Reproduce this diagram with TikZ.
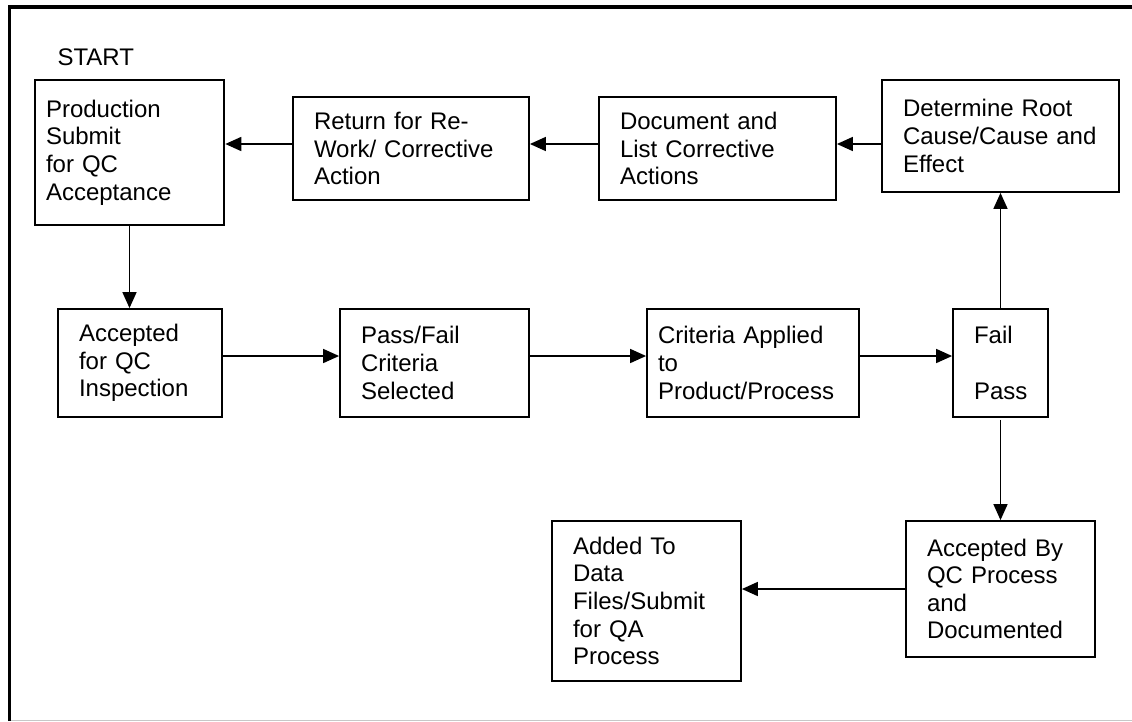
\documentclass[tikz,border=0pt]{standalone}
\usepackage{fontspec}
\setmainfont{Liberation Sans}
\usepackage{tikz}
\usetikzlibrary{arrows.meta}
\tikzset{
	qcbox/.style={draw, line width=1.8pt, align=left, inner xsep=21pt, inner ysep=0pt,
		font=\fontsize{24pt}{27.6pt}\selectfont},
	qcarrow/.style={line width=1.6pt, -{Triangle[length=16pt,width=14pt]}}
}
\def\qcbox[#1](#2)(#3:#4:#5:#6)#7{\node[qcbox, #1, text width=#5pt, minimum height=#6pt] (#2) at (#3,#4) {#7};}

\begin{document}
\begin{tikzpicture}[x=1pt, y=-1pt]
			%%%%% START %%%%%
			\useasboundingbox (0,0) rectangle (1132,721);
			
			\draw[line width=3.5pt] (9.5,721) -- (9.5,7) -- (1132,7);
			\draw[line width=1pt, color=black!22] (11,720) -- (1132,720);
			
			\node[anchor=base west, font=\fontsize{24pt}{27.6pt}\selectfont] (start) at (54,65) {START};
			
			\qcbox[line width=2.6pt, inner xsep=11pt](prod)(129.5:152.5:167:145){Production\\Submit\\for QC\\Acceptance}
			\qcbox[](ret)(411:148.5:194:103){Return for Re-\\Work/ Corrective\\Action}
			\qcbox[](doc)(717.5:148.5:195:103){Document and\\List Corrective\\Actions}
			\qcbox[](root)(1000.5:136:195:112){Determine Root\\Cause/Cause and\\Effect}
			
			\qcbox[](acc)(140:363:122:108){Accepted\\for QC\\Inspection}
			\qcbox[](pf)(434.5:363:147:108){Pass/Fail\\Criteria\\Selected}
			\qcbox[inner xsep=11pt](crit)(753:363:190:108){Criteria Applied\\to\\Product/Process}
			\qcbox[](fail)(1000.5:363:53:108){Fail\\[27.6pt]Pass}
			
			\qcbox[](accby)(1000.5:589:147:136){Accepted By\\QC Process\\and\\Documented}
			\qcbox[](added)(646.5:601:147:160){Added To\\Data\\Files/Submit\\for QA\\Process}
			
			\draw[qcarrow] ([yshift=4.5pt]ret.west) -- ([yshift=4.5pt]ret.west -| prod.east);
			\draw[qcarrow] ([yshift=4.5pt]doc.west) -- ([yshift=4.5pt]ret.east);
			\draw[qcarrow] ([yshift=4.5pt]doc.east -| root.west) -- ([yshift=4.5pt]doc.east);
			\draw[qcarrow] (prod.south) -- (prod.south |- acc.north);
			
			\draw[qcarrow] ([yshift=7pt]acc.east) -- ([yshift=7pt]pf.west);
			\draw[qcarrow] ([yshift=7pt]pf.east) -- ([yshift=7pt]crit.west);
			\draw[qcarrow] ([yshift=7pt]crit.east) -- ([yshift=7pt]fail.west);
			\draw[qcarrow] (fail.north) -- (root.south);
			\draw[qcarrow] ([yshift=-2pt]fail.south) -- (accby.north);
			\draw[qcarrow] (accby.west) -- (accby.west -| added.east);
			
			%%%%% END %%%%%
\end{tikzpicture}
\end{document}
